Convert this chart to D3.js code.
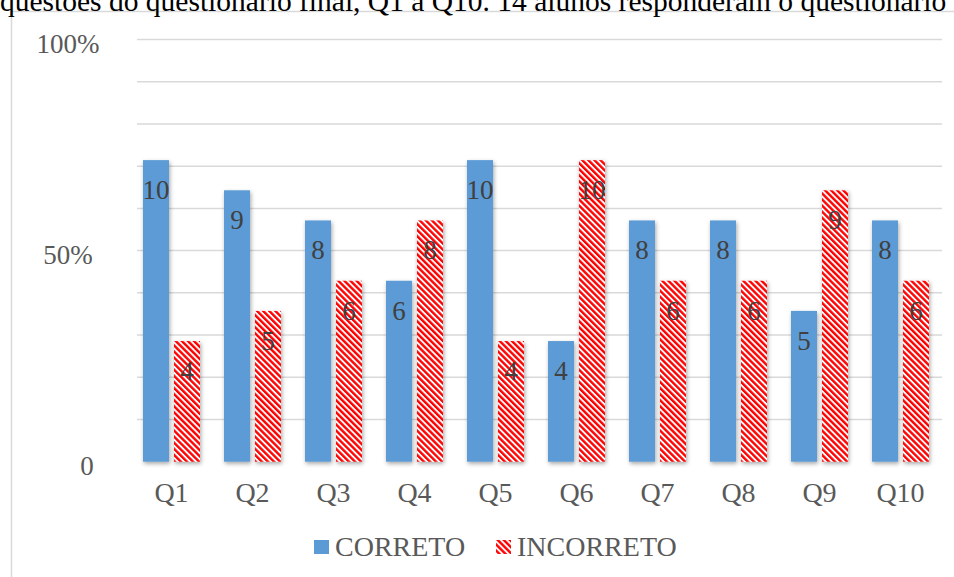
<!DOCTYPE html>
<html>
<head>
<meta charset="utf-8">
<script src="https://cdn.jsdelivr.net/npm/d3@7"></script>
<style>
  body { margin: 0; background: #fff; }
  text { font-family: "Liberation Serif", "DejaVu Serif", serif; }
</style>
</head>
<body>
<script>
const categories = ["Q1", "Q2", "Q3", "Q4", "Q5", "Q6", "Q7", "Q8", "Q9", "Q10"];
const correto = [10, 9, 8, 6, 10, 4, 8, 8, 5, 8];
const incorreto = [4, 5, 6, 8, 4, 10, 6, 6, 9, 6];
const series = ["CORRETO", "INCORRETO"];
const totalAlunos = 14;
const gridValues = [0.1, 0.2, 0.3, 0.4, 0.5, 0.6, 0.7, 0.8, 0.9, 1];
const tickValues = [0, 0.5, 1];
const tickLabels = ["0", "50%", "100%"];
const title = "questões do questionário final, Q1 a Q10. 14 alunos responderam o questionário";

const width = 954, height = 577;
const svg = d3.select("body").append("svg")
  .attr("width", width)
  .attr("height", height);

const defs = svg.append("defs");
const hatch = defs.append("pattern")
  .attr("id", "hatch")
  .attr("patternUnits", "userSpaceOnUse")
  .attr("width", 4.3)
  .attr("height", 4.3)
  .attr("patternTransform", "rotate(-45)");
hatch.append("rect").attr("width", 4.3).attr("height", 4.3).attr("fill", "#fff");
hatch.append("rect").attr("width", 2.4).attr("height", 4.3).attr("fill", "#ff0000");

const shadow = defs.append("filter")
  .attr("id", "shadow")
  .attr("x", "-30%").attr("y", "-10%")
  .attr("width", "160%").attr("height", "130%");
shadow.append("feDropShadow")
  .attr("dx", 1).attr("dy", 2)
  .attr("stdDeviation", 2)
  .attr("flood-color", "#000")
  .attr("flood-opacity", 0.35);

// chart frame (cut by the page edges)
svg.append("rect")
  .attr("x", 11.5).attr("y", 11.5)
  .attr("width", 1000).attr("height", 700)
  .attr("fill", "none")
  .attr("stroke", "#d9d9d9")
  .attr("stroke-width", 1.5);

// caption above the chart, cut at the top like the reference
svg.append("text")
  .attr("x", 0).attr("y", 11)
  .attr("font-size", 29.5)
  .attr("fill", "#000")
  .text(title);

const y = d3.scaleLinear().domain([0, 1]).range([461.7, 39.5]);
const x = d3.scaleBand().domain(categories).range([131, 941]);
const xSub = d3.scaleBand().domain(series).range([12, 69]).paddingInner(5 / 31);

// gridlines
svg.append("g").selectAll("line")
  .data(gridValues)
  .enter().append("line")
  .attr("x1", 137).attr("x2", 942)
  .attr("y1", d => y(d)).attr("y2", d => y(d))
  .attr("stroke", "#d9d9d9")
  .attr("stroke-width", 1.5);

// y tick labels
svg.append("g").selectAll("text")
  .data(tickValues)
  .enter().append("text")
  .attr("x", d => d === 0 ? 87 : 68)
  .attr("y", d => y(d) + 13)
  .attr("text-anchor", "middle")
  .attr("font-size", 27)
  .attr("fill", "#595959")
  .text((d, i) => tickLabels[i]);

// bars
const rows = categories.map((c, i) => ({cat: c, vals: [correto[i], incorreto[i]]}));
const fills = ["#5b9bd5", "url(#hatch)"];

const groups = svg.append("g").selectAll("g")
  .data(rows)
  .enter().append("g")
  .attr("transform", d => "translate(" + x(d.cat) + ",0)");

groups.selectAll("rect")
  .data(d => d.vals.map((v, j) => ({s: series[j], v: v, j: j})))
  .enter().append("rect")
  .attr("x", d => xSub(d.s))
  .attr("y", d => y(d.v / totalAlunos))
  .attr("width", xSub.bandwidth())
  .attr("height", d => y(0) - y(d.v / totalAlunos))
  .attr("fill", d => fills[d.j])
  .attr("filter", "url(#shadow)");

groups.selectAll("text")
  .data(d => d.vals.map((v, j) => ({s: series[j], v: v})))
  .enter().append("text")
  .attr("x", d => xSub(d.s) + xSub.bandwidth() / 2)
  .attr("y", d => y(d.v / totalAlunos) + 39)
  .attr("text-anchor", "middle")
  .attr("font-size", 27)
  .attr("fill", "#404040")
  .text(d => d.v);

// baseline axis
svg.append("line")
  .attr("x1", 137).attr("x2", 942)
  .attr("y1", y(0) + 1).attr("y2", y(0) + 1)
  .attr("stroke", "#bfbfbf")
  .attr("stroke-width", 2.5)
  .attr("filter", "url(#shadow)");

// x labels
svg.append("g").selectAll("text")
  .data(categories)
  .enter().append("text")
  .attr("x", d => x(d) + 40.5)
  .attr("y", 502)
  .attr("text-anchor", "middle")
  .attr("font-size", 28)
  .attr("fill", "#595959")
  .text(d => d);

// legend
const legendX = [314, 496];
const legend = svg.append("g").selectAll("g")
  .data(series)
  .enter().append("g")
  .attr("transform", (d, i) => "translate(" + legendX[i] + ",540)");
legend.append("rect")
  .attr("width", 15).attr("height", 14)
  .attr("fill", (d, i) => fills[i]);
legend.append("text")
  .attr("x", 21).attr("y", 15.5)
  .attr("font-size", 28)
  .attr("fill", "#595959")
  .text(d => d);
</script>
</body>
</html>
